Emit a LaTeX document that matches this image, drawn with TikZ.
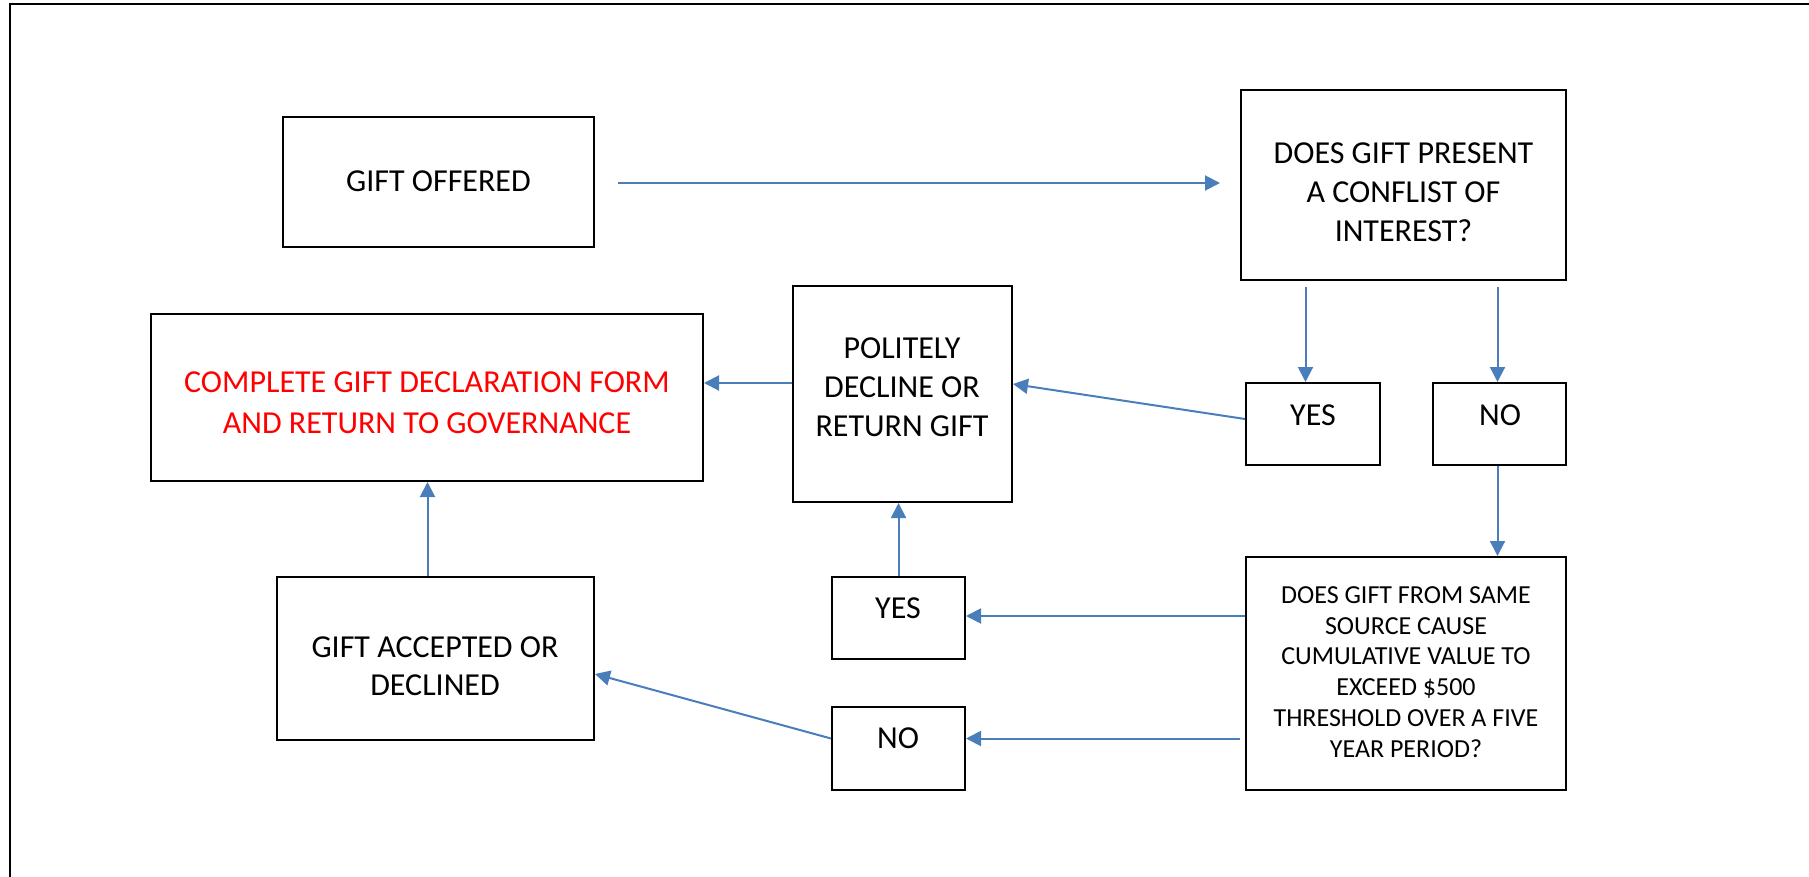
\documentclass[tikz,border=0pt]{standalone}
\usepackage{fontspec}
\setmainfont{Carlito}
\usetikzlibrary{arrows.meta,calc}
\definecolor{conn}{HTML}{4A7EBB}
\definecolor{wordred}{HTML}{FF0000}
\tikzset{
  boxnode/.style={draw=black, line width=2pt, rectangle, inner sep=0pt},
  txt/.style={align=center, inner sep=0pt, font=\fontsize{32}{39}\selectfont},
  conarrow/.style={draw=conn, line width=2pt, -{Triangle[length=15pt,width=15pt]}},
}
\begin{document}
\begin{tikzpicture}[x=1pt,y=-1pt]
\useasboundingbox (0,0) rectangle (1809,877);
% outer frame (left and top edges visible)
\draw[line width=2.2pt] (10,880) -- (10,4) -- (1812,4);

% boxes
\node[boxnode, minimum width=311pt, minimum height=130pt] (offered) at (438.5,182) {};
\node[boxnode, minimum width=325pt, minimum height=190pt] (present) at (1403.5,185) {};
\node[boxnode, minimum width=134pt, minimum height=82pt] (yes1) at (1313,424) {};
\node[boxnode, minimum width=133pt, minimum height=82pt] (no1) at (1499.5,424) {};
\node[boxnode, minimum width=219pt, minimum height=216pt] (politely) at (902.5,394) {};
\node[boxnode, minimum width=552pt, minimum height=167pt] (complete) at (427,397.5) {};
\node[boxnode, minimum width=320pt, minimum height=233pt] (from) at (1406,673.5) {};
\node[boxnode, minimum width=133pt, minimum height=82pt] (yes2) at (898.5,618) {};
\node[boxnode, minimum width=133pt, minimum height=83pt] (no2) at (898.5,748.5) {};
\node[boxnode, minimum width=317pt, minimum height=163pt] (accepted) at (435.5,658.5) {};

% texts
\node[txt] (offeredT) at (438.5,181) {GIFT OFFERED};
\node[txt] (presentT) at (1403.5,192) {DOES GIFT PRESENT\\A CONFLIST OF\\INTEREST?};
\node[txt] (yes1T) at (1313,415) {YES};
\node[txt] (no1T) at (1500,415) {NO};
\node[txt] (politelyT) at (902,387) {POLITELY\\DECLINE OR\\RETURN GIFT};
\node[txt, text=wordred, font=\fontsize{32}{41.5}\selectfont] (completeT) at (427,402.5) {COMPLETE GIFT DECLARATION FORM\\AND RETURN TO GOVERNANCE};
\node[txt, font=\fontsize{26}{30.8}\selectfont] (fromT) at (1406,672) {DOES GIFT FROM SAME\\SOURCE CAUSE\\CUMULATIVE VALUE TO\\EXCEED \$500\\THRESHOLD OVER A FIVE\\YEAR PERIOD?};
\node[txt] (yes2T) at (898,608) {YES};
\node[txt] (no2T) at (898,738) {NO};
\node[txt, font=\fontsize{32}{38}\selectfont] (acceptedT) at (435,666) {GIFT ACCEPTED OR\\DECLINED};

% connectors
\draw[conarrow] ($(offered.east)+(23,1)$) -- ($(present.west)+(-20,-2)$);
\draw[conarrow] ($(present.south)+(-98,6)$) -- ($(present.south |- yes1.north)+(-98,0)$);
\draw[conarrow] ($(present.south)+(94,6)$) -- ($(present.south |- no1.north)+(94,0)$);
\draw[conarrow] ($(no1.south)+(-2,0)$) -- ($(no1.south |- from.north)+(-2,0)$);
\draw[conarrow] ($(yes1.west)+(0,-5)$) -- ($(politely.east)+(0,-10)$);
\draw[conarrow] ($(politely.west)+(0,-11)$) -- ($(politely.west -| complete.east)+(0,-11)$);
\draw[conarrow] ($(yes2.east -| from.west)+(0,-2)$) -- ($(yes2.east)+(0,-2)$);
\draw[conarrow] ($(no2.east -| from.west)+(-5,-10)$) -- ($(no2.east)+(0,-10)$);
\draw[conarrow] ($(no2.west)+(0,-10)$) -- ($(accepted.east)+(0,15.5)$);
\draw[conarrow] (yes2.north) -- (yes2.north |- politely.south);
\draw[conarrow] ($(accepted.north)+(-8,0)$) -- ($(accepted.north |- complete.south)+(-8,0)$);
\end{tikzpicture}
\end{document}
